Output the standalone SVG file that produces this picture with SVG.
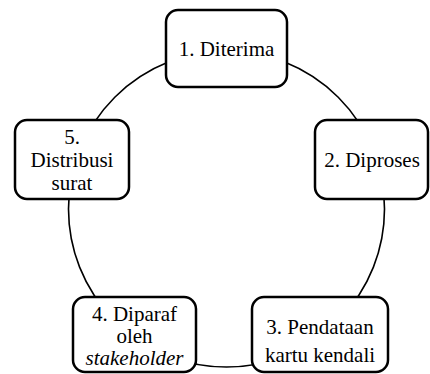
<svg xmlns="http://www.w3.org/2000/svg" width="430" height="374" viewBox="0 0 430 374">
<style>
.box{fill:#fff;stroke:#000;stroke-width:2.5}
.conn{fill:none;stroke:#000;stroke-width:1.6}
</style>
<rect width="430" height="374" fill="#fff"/>
<g id="connectors">
<circle class="conn" cx="226.5" cy="209" r="158"/>
</g>
<g font-family="Liberation Serif, Times New Roman, Times, serif" font-size="21" fill="#000" text-anchor="middle">
<g id="node1">
<rect class="box" x="166" y="10" width="121" height="77" rx="12"/>
<text x="226.5" y="56">1. Diterima</text>
</g>
<g id="node2">
<rect class="box" x="315" y="120" width="113" height="79" rx="12"/>
<text x="372" y="167">2. Diproses</text>
</g>
<g id="node3">
<rect class="box" x="252" y="297" width="136" height="75" rx="12"/>
<text x="320" y="334">3. Pendataan</text>
<text x="320" y="362">kartu kendali</text>
</g>
<g id="node4">
<rect class="box" x="73" y="297" width="123" height="75" rx="12"/>
<text x="134.5" y="321">4. Diparaf</text>
<text x="134.5" y="343">oleh</text>
<text x="134.5" y="365" font-style="italic">stakeholder</text>
</g>
<g id="node5">
<rect class="box" x="15" y="120" width="114" height="79" rx="12"/>
<text x="72" y="144">5.</text>
<text x="72" y="167">Distribusi</text>
<text x="72" y="190">surat</text>
</g>
</g>
</svg>
